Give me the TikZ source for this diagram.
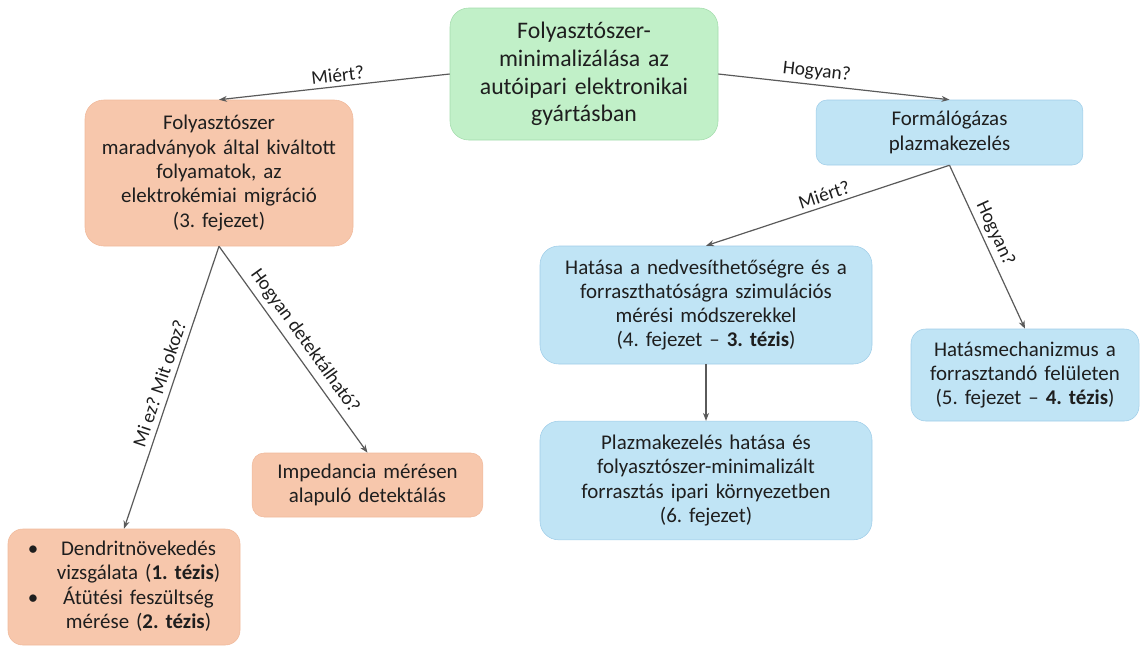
\documentclass[tikz,border=0pt]{standalone}
\usepackage{fontspec}
\setmainfont{Carlito}
\usepackage{xcolor}
\usetikzlibrary{arrows.meta}
\frenchspacing

\definecolor{zoldfill}{HTML}{C1F0C8}
\definecolor{zoldkeret}{HTML}{A3DCAC}
\definecolor{narancsfill}{HTML}{F7C7AC}
\definecolor{narancskeret}{HTML}{F0BA9C}
\definecolor{kekfill}{HTML}{C0E4F5}
\definecolor{kekkeret}{HTML}{9FCDE8}
\definecolor{nyilszin}{HTML}{5A5A5A}
\definecolor{szoveg}{HTML}{1E1E1E}

\begin{document}
\begin{tikzpicture}[
    x=0.75pt, y=-0.75pt,
    doboz/.style={rectangle, rounded corners=14pt, inner sep=0pt, align=center,
                  text=szoveg, font=\fontsize{15.7}{18.2}\selectfont},
    zold/.style={doboz, fill=zoldfill, draw=zoldkeret},
    narancs/.style={doboz, fill=narancsfill, draw=narancskeret},
    kek/.style={doboz, fill=kekfill, draw=kekkeret},
    nyil/.style={draw=nyilszin, line width=0.9pt, -{Stealth[length=6pt,width=4.5pt]}},
    kerdes/.style={font=\fontsize{14.5}{16}\selectfont, text=szoveg, sloped, above, inner sep=3pt}
]
  \useasboundingbox (0,0) rectangle (1141,646);

  % dobozok
  \node[zold, text width=201pt, minimum height=99pt,
        font=\fontsize{17.8}{20.8}\selectfont] (cel) at (584,74)
    {Folyasztószer-\\minimalizálása az\\autóipari elektronikai\\gyártásban};
  \node[narancs, text width=201pt, minimum height=109.5pt] (migracio) at (219,173)
    {Folyasztószer\\maradványok által kiváltott\\folyamatok, az\\elektrokémiai migráció\\(3. fejezet)};
  \node[kek, text width=200pt, minimum height=48.75pt, rounded corners=8pt] (plazma) at (949.5,132.5)
    {Formálógázas\\plazmakezelés};
  \node[kek, text width=249pt, minimum height=88.5pt] (nedv) at (706,305)
    {Hatása a nedvesíthetőségre és a\\forraszthatóságra szimulációs\\mérési módszerekkel\\(4. fejezet -- \textbf{3. tézis})};
  \node[kek, text width=249pt, minimum height=89pt] (ipari) at (706,480.5)
    {Plazmakezelés hatása és\\folyasztószer-minimalizált\\forrasztás ipari környezetben\\(6. fejezet)};
  \node[kek, text width=171pt, minimum height=69pt, rounded corners=11pt] (mech) at (1025,375)
    {Hatásmechanizmus a\\forrasztandó felületen\\(5. fejezet -- \textbf{4. tézis})};
  \node[narancs, text width=173pt, minimum height=48pt, rounded corners=9pt] (imp) at (367.5,485)
    {Impedancia mérésen\\alapuló detektálás};
  \node[narancs, text width=174pt, minimum height=87pt, rounded corners=11pt] (dendrit) at (124,587)
    {\begin{tabular}{@{}c@{\hspace{14pt}}c@{}}
       \textbullet & Dendritnövekedés\\
                   & vizsgálata (\textbf{1. tézis})\\
       \textbullet & Átütési feszültség\\
                   & mérése (\textbf{2. tézis})
     \end{tabular}};

  % nyilak es kerdesek
  \draw[nyil] (cel.west) -- (migracio.north) node[kerdes, pos=0.48] {Miért?};
  \draw[nyil] (cel.east) -- (plazma.north) node[kerdes, pos=0.42] {Hogyan?};
  \draw[nyil] (plazma.south) -- (nedv.north) node[kerdes, pos=0.5] {Miért?};
  \draw[nyil] (plazma.south) -- (mech.north) node[kerdes, pos=0.45] {Hogyan?};
  \draw[nyil] (migracio.south) -- (dendrit.north) node[kerdes, pos=0.5, inner sep=4pt] {Mi ez? Mit okoz?};
  \draw[nyil] (migracio.south) -- (imp.north) node[kerdes, pos=0.5, inner sep=4pt] {Hogyan detektálható?};
  \draw[nyil] (nedv.south) -- (ipari.north);
\end{tikzpicture}
\end{document}
